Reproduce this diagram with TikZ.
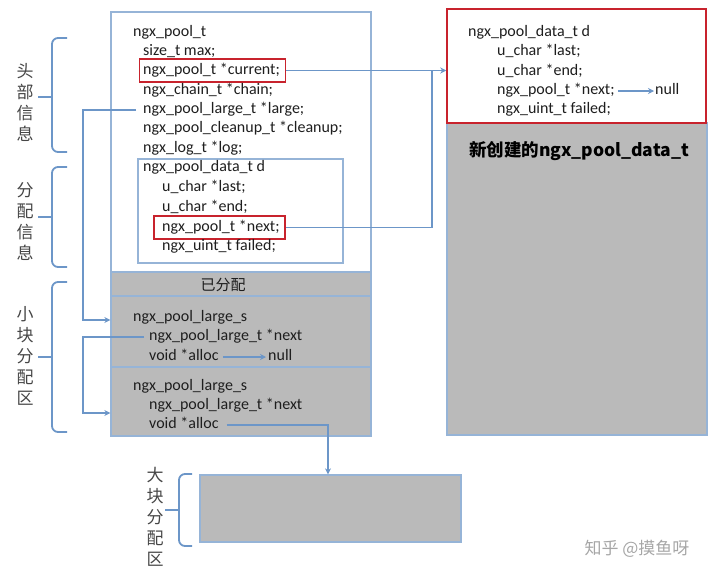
\documentclass[tikz,border=0pt]{standalone}
\usepackage{fontspec}
\setmainfont{Carlito}
\newfontfamily\cjk{Noto Sans CJK SC}
\usetikzlibrary{arrows.meta}
\definecolor{lnblue}{RGB}{108,150,200}
\definecolor{boxblue}{RGB}{150,180,215}
\definecolor{hlred}{RGB}{200,35,45}
\definecolor{fillgray}{RGB}{186,186,186}
\definecolor{txt}{RGB}{30,30,30}
\definecolor{lbl}{RGB}{70,70,70}
\tikzset{
  box/.style={draw=boxblue, line width=1.3pt, inner sep=0pt},
  graybox/.style={box, fill=fillgray},
  redbox/.style={draw=hlred, line width=1.5pt, inner sep=0pt},
  code/.style={anchor=west, inner sep=0pt, text height=10.5pt, text depth=3.5pt, text=txt, font=\fontsize{16}{18}\selectfont},
  conn/.style={draw=lnblue, line width=1.8pt},
  arr/.style={conn, -{Stealth[length=6pt,width=6pt]}},
  bracket/.style={draw=lnblue, line width=1.8pt, rounded corners=6pt},
  stub/.style={draw=lnblue, line width=1.8pt},
  sidelbl/.style={align=center, inner sep=0pt, text=lbl, font=\cjk\fontsize{17}{21}\selectfont},
}
\begin{document}
\begin{tikzpicture}[x=1pt, y=-1pt]
\useasboundingbox (0,0) rectangle (720,581);
% main structure
\node[box, minimum width=260pt, minimum height=260pt] (mainbox) at (241,142) {};
\node[box, minimum width=205pt, minimum height=104pt] (innerbox) at (240.5,211) {};
\node[graybox, minimum width=260pt, minimum height=24pt] (hdr) at (241,284) {};
\node[graybox, minimum width=260pt, minimum height=71pt] (large1) at (241,331.5) {};
\node[graybox, minimum width=260pt, minimum height=69pt] (large2) at (241,401.5) {};
% right structure
\node[graybox, minimum width=260pt, minimum height=312pt] (rightgray) at (577,279) {};
\node[redbox, fill=white, minimum width=259pt, minimum height=114pt] (rightred) at (576.5,66) {};
% big block
\node[graybox, minimum width=261pt, minimum height=67pt] (bigbox) at (330.5,508.5) {};
% highlight boxes
\node[redbox, minimum width=146pt, minimum height=23pt] (curbox) at (212.5,70.5) {};
\node[redbox, minimum width=131pt, minimum height=23pt] (nextbox) at (219.5,227.5) {};
% texts main
\node[code] (t1) at (133,33) {ngx\_pool\_t};
\node[code] (t2) at (143,52) {size\_t max;};
\node[code] (t3) at (143,71) {ngx\_pool\_t *current;};
\node[code] (t4) at (143,91) {ngx\_chain\_t *chain;};
\node[code] (t5) at (143,110) {ngx\_pool\_large\_t *large;};
\node[code] (t6) at (143,129) {ngx\_pool\_cleanup\_t *cleanup;};
\node[code] (t7) at (143,149) {ngx\_log\_t *log;};
\node[code] (t8) at (143,168) {ngx\_pool\_data\_t d};
\node[code] (t9) at (162,188) {u\_char *last;};
\node[code] (t10) at (162,208) {u\_char *end;};
\node[code] (t11) at (162,228) {ngx\_pool\_t *next;};
\node[code] (t12) at (162,247) {ngx\_uint\_t failed;};
% small alloc area
\node[inner sep=0pt, text=txt, font=\cjk\fontsize{15}{17}\selectfont] (hdrtxt) at (223,285) {已分配};
\node[code] (l1a) at (133,318) {ngx\_pool\_large\_s};
\node[code] (l1b) at (149,337) {ngx\_pool\_large\_t *next};
\node[code] (l1c) at (149,357) {void *alloc};
\node[code] (null1) at (268,357) {null};
\node[code] (l2a) at (133,387) {ngx\_pool\_large\_s};
\node[code] (l2b) at (149,406) {ngx\_pool\_large\_t *next};
\node[code] (l2c) at (149,425) {void *alloc};
% right texts
\node[code] (r1) at (468,33) {ngx\_pool\_data\_t d};
\node[code] (r2) at (497,52) {u\_char *last;};
\node[code] (r3) at (497,72) {u\_char *end;};
\node[code] (r4) at (497,91) {ngx\_pool\_t *next;};
\node[code] (rnull) at (655,91) {null};
\node[code] (r5) at (497,110) {ngx\_uint\_t failed;};
\node[inner sep=0pt, text=black, font=\cjk\bfseries\fontsize{17.5}{21}\selectfont] (rtitle) at (579,151) {新创建的ngx\_pool\_data\_t};
% side labels
\node[sidelbl] (lab1) at (25,102.5) {头\\部\\信\\息};
\node[sidelbl] (lab2) at (25,221.5) {分\\配\\信\\息};
\node[sidelbl] (lab3) at (25,356) {小\\块\\分\\配\\区};
\node[sidelbl] (lab4) at (155,517) {大\\块\\分\\配\\区};
% brackets
\draw[bracket] (67,38) -- (52,38) -- (52,152) -- (67,152);
\draw[stub] (52,97) -- (38,97);
\draw[bracket] (67,167) -- (52,167) -- (52,267) -- (67,267);
\draw[stub] (52,217) -- (38,217);
\draw[bracket] (67,282) -- (52,282) -- (52,432) -- (67,432);
\draw[stub] (52,357) -- (38,357);
\draw[bracket] (192,474) -- (179,474) -- (179,546) -- (192,546);
\draw[stub] (179,510) -- (165,510);
% connectors
\coordinate (jn) at (432,70.5);
\draw[arr] (curbox.east) -- (curbox.east -| rightred.west);
\draw[conn] (nextbox.east) -| (jn);
\coordinate (c1) at (83,320);
\draw[arr] ([xshift=-7pt]t5.west) -| (c1) -- (c1 -| large1.west);
\coordinate (c2) at (83,413);
\draw[arr] ([xshift=-5pt]l1b.west) -| (c2) -- (c2 -| large2.west);
\draw[arr] ([xshift=4pt]l1c.east) -- ([xshift=-2pt]null1.west);
\draw[arr] ([xshift=3pt]r4.east) -- ([xshift=-1pt]rnull.west);
\coordinate (c3) at (328,425);
\draw[arr] ([xshift=8pt]l2c.east) -- (c3) -- (c3 |- bigbox.north);
% watermark
\node[inner sep=0pt, text=black!35, font=\cjk\fontsize{17}{20}\selectfont] (wm) at (637,549) {知乎 @摸鱼呀};
\end{tikzpicture}
\end{document}
